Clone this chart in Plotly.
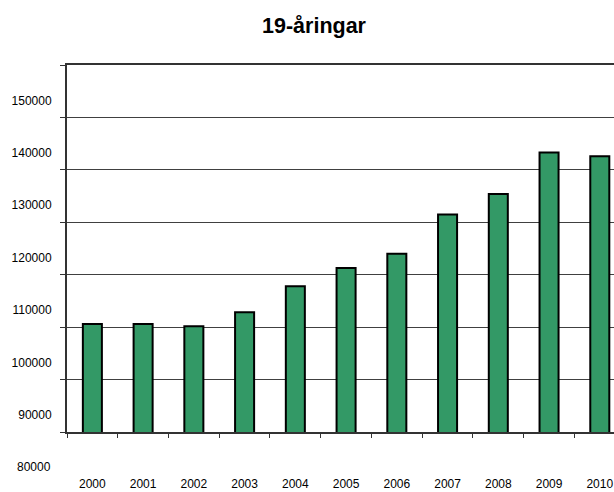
import plotly.graph_objects as go

years = ["2000", "2001", "2002", "2003", "2004", "2005", "2006", "2007", "2008", "2009", "2010"]
values = [110600, 110600, 110180, 112850, 117800, 121300, 124000, 131500, 135400, 143300, 142600]
y_ticks = [90000, 100000, 110000, 120000, 130000, 140000, 150000, 160000]
y_ticktext = ["90000", "100000", "110000", "120000", "130000", "140000", "150000", ""]
extra_label = "80000"

W, H = 614, 492

fig = go.Figure()
fig.add_trace(go.Bar(
    x=years, y=values,
    marker=dict(color="#339966", line=dict(color="#000000", width=2)),
    width=0.375,
))

# Extra axis label below the lowest gridline (same offset as the other labels)
fig.add_annotation(
    x=0, xref="paper", y=y_ticks[0], yref="y",
    text=extra_label, showarrow=False,
    xanchor="right", yanchor="middle", xshift=-14, yshift=-35,
    font=dict(family="Liberation Sans, Arial", size=12, color="#000000"),
)

fig.update_layout(
    width=W, height=H,
    margin=dict(l=67, r=0, t=65, b=60, autoexpand=False),
    paper_bgcolor="white", plot_bgcolor="white",
    showlegend=False,
    font=dict(family="Liberation Sans, Arial", size=12, color="#000000"),
    title=dict(
        text="19-åringar", x=314 / W, xanchor="center",
        y=1 - 25 / H, yanchor="middle", yref="container",
        font=dict(family="Liberation Sans, Arial", size=21.5, color="#000000", weight="bold"),
    ),
    xaxis=dict(
        type="category", range=[-0.5, 10.28], automargin=False,
        showline=True, linecolor="#333333", linewidth=2, mirror=True,
        ticks="outside", ticklen=4, tickcolor="#333333", tickwidth=1,
        tickson="boundaries",
        showgrid=False, ticklabelstandoff=40,
        tickfont=dict(size=12),
    ),
    yaxis=dict(
        range=[90000, 160000], automargin=False,
        tickmode="array", tickvals=y_ticks, ticktext=y_ticktext,
        showline=True, linecolor="#333333", linewidth=2,
        ticks="outside", ticklen=5, tickcolor="#333333", tickwidth=1,
        showgrid=True, gridcolor="#404040", gridwidth=1,
        ticklabelshift=-17, ticklabelstandoff=6,
        zeroline=False,
        tickfont=dict(size=12),
    ),
    bargap=0.625,
)

fig.write_html(
    "out.html",
    config={"displayModeBar": False},
    post_script=(
        "document.body.style.margin='0';"
        "document.body.style.overflow='hidden';"
        "document.documentElement.style.overflow='hidden';"
    ),
)
